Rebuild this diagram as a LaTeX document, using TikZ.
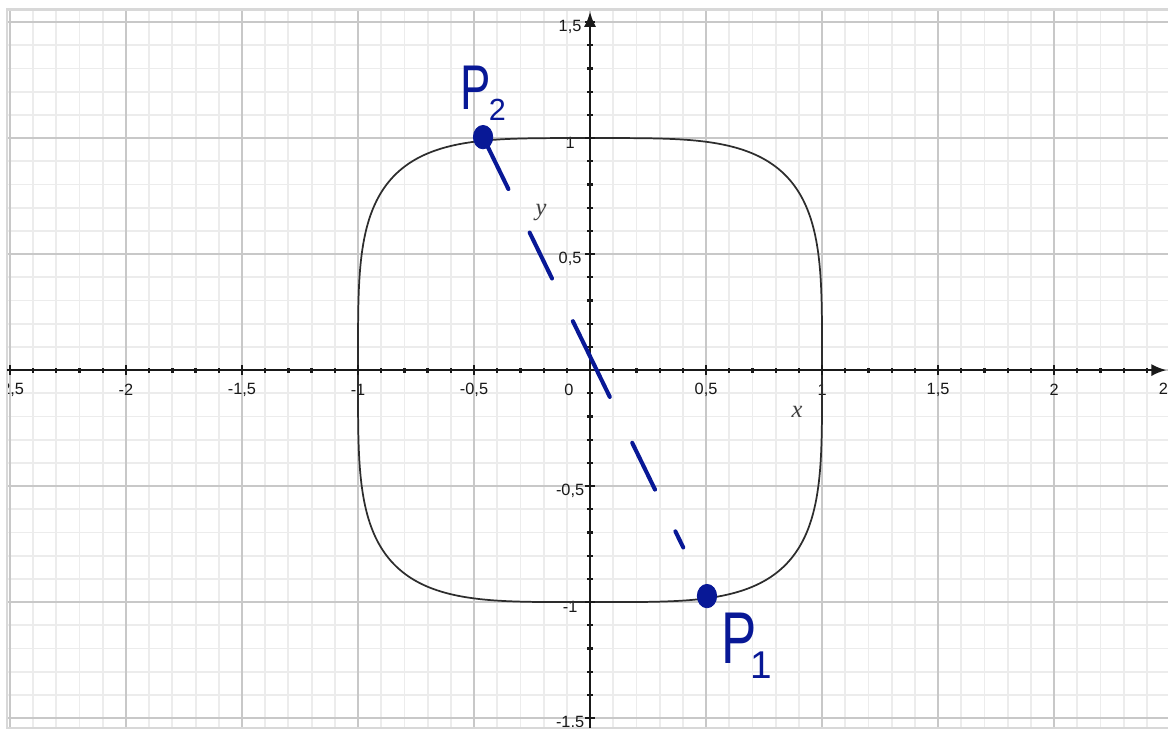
\documentclass[tikz,border=0pt]{standalone}
\usepackage{fontspec}
\setmainfont{Liberation Sans}
\newfontfamily\serifface{Liberation Serif}
\usetikzlibrary{arrows.meta,calc,shapes.geometric}
\definecolor{pen}{RGB}{8,24,150}
\definecolor{minorc}{RGB}{236,236,236}
\definecolor{majorc}{RGB}{200,200,200}
\definecolor{framec}{RGB}{216,216,216}
\definecolor{axisc}{RGB}{25,25,25}
\definecolor{curvec}{RGB}{45,45,45}
\tikzset{
  minorgrid/.style={draw=minorc, line width=0.9pt},
  majorgrid/.style={draw=majorc, line width=0.8pt},
  framebox/.style={draw=framec, line width=1.3pt},
  axisline/.style={draw=axisc, line width=1.3pt},
  tickmark/.style={draw=axisc, line width=1.1pt},
  ticklabel/.style={font=\fontsize{8}{9}\selectfont, text=axisc, inner sep=0pt},
  axlabel/.style={font=\serifface\itshape\fontsize{12}{12}\selectfont, text=black!75, inner sep=0pt},
  curve/.style={draw=curvec, line width=0.85pt},
  penline/.style={draw=pen, line width=2pt, line cap=round},
  blob/.style={ellipse, fill=pen, draw=pen, inner sep=0pt, minimum width=9.5pt, minimum height=11.5pt},
  handlabel/.style={text=pen, inner sep=0pt, anchor=base west},
}
\begin{document}
\begin{tikzpicture}[x=4cm,y=4cm]
\useasboundingbox (-2.543,-1.552) rectangle (2.491,1.595);
\fill[white] (-2.543,-1.552) rectangle (2.491,1.595);
\begin{scope}
  \clip (-2.513,-1.543) rectangle (2.6,1.554);
  \foreach \i in {-26,...,25} \draw[minorgrid] (\i/10,-1.6) -- (\i/10,1.6);
  \foreach \j in {-16,...,16} \draw[minorgrid] (-2.6,\j/10) -- (2.6,\j/10);
  \foreach \i in {-2.5,-2,...,2.5} \draw[majorgrid] (\i,-1.6) -- (\i,1.6);
  \foreach \j in {-1.5,-1,...,1.5} \draw[majorgrid] (-2.6,\j) -- (2.6,\j);
  \foreach \v/\t [count=\k] in {-2.5/{-2,5},-2/-2,-1.5/{-1,5},-1/-1,-0.5/{-0,5},0.5/{0,5},1/1,1.5/{1,5},2/2,2.5/{2,5}}
    \node[ticklabel] (xl\k) at (\v,-0.086) {\t};
  \node[ticklabel] (zero) at (-0.091,-0.086) {0};
  \foreach \v/\t [count=\k] in {1.5/{1,5},1/1,0.5/{0,5},-0.5/{-0,5},-1/-1,-1.5/{-1,5}}
    \node[ticklabel] (yl\k) at (-0.086,\v-0.022) {\t};
\end{scope}
\draw[framebox] (-2.513,-1.543) rectangle (2.6,1.554);
% curve x^4 + y^4 = 1
\draw[curve, variable=\t] plot[domain=0:360, samples=721]
  ({sign(cos(\t))*sqrt(abs(cos(\t)))}, {sign(sin(\t))*sqrt(abs(sin(\t)))});
% axes
\draw[axisline,-{Latex[length=7.5pt,width=6pt]}] (-2.513,0) -- (2.485,0);
\draw[axisline,-{Latex[length=7.5pt,width=6pt]}] (0,-1.543) -- (0,1.545);
\foreach \i in {-25,...,24} \draw[tickmark] (\i/10,-0.011) -- (\i/10,0.011);
\foreach \i in {-2.5,-2,...,2} \draw[tickmark] (\i,-0.021) -- (\i,0.021);
\foreach \j in {-15,...,15} \draw[tickmark] (-0.011,\j/10) -- (0.011,\j/10);
\foreach \j in {-1.5,-1,...,1.5} \draw[tickmark] (-0.021,\j) -- (0.021,\j);
\node[axlabel] (xlab) at (0.892,-0.181) {x};
\node[axlabel] (ylab) at (-0.211,0.681) {y};
% points and hand-drawn dashed line
\node[blob] (P2) at (-0.461,1.004) {};
\node[blob] (P1) at (0.504,-0.974) {};
\foreach \a/\b in {0/0.113,0.208/0.308,0.401/0.566,0.666/0.768,0.859/0.894}
  \draw[penline] ($(P2)!\a!(P1)$) -- ($(P2)!\b!(P1)$);
\node[handlabel] (P2lab) at (-0.560,1.121) {\fontsize{31}{31}\selectfont\scalebox{0.72}[1]{P}\kern-1pt\raisebox{-5pt}{\fontsize{15}{15}\selectfont 2}};
\node[handlabel] (P1lab) at (0.565,-1.263) {\fontsize{36}{36}\selectfont\scalebox{0.72}[1]{P}\kern-3pt\raisebox{-7.3pt}{\fontsize{19}{19}\selectfont 1}};
\end{tikzpicture}
\end{document}
